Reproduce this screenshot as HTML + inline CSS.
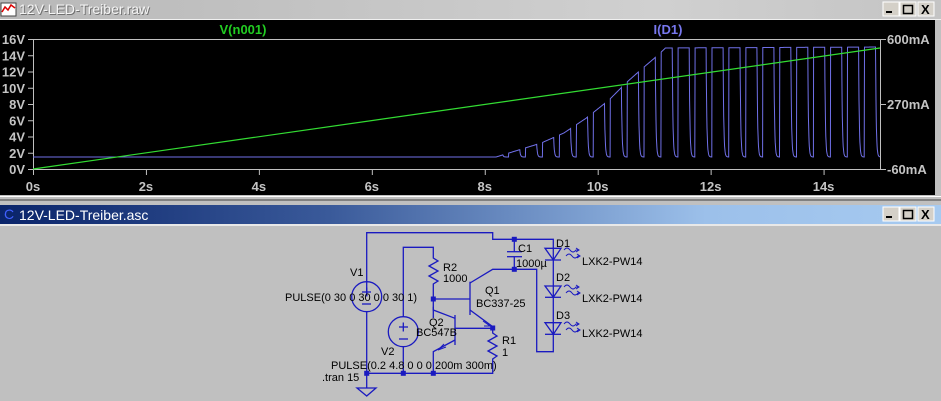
<!DOCTYPE html>
<html><head><meta charset="utf-8"><style>
html,body{margin:0;padding:0;background:#c0c0c0;width:941px;height:401px;overflow:hidden}
svg{display:block}
.ax{font-family:"Liberation Sans",sans-serif;font-size:13px;fill:#c4c4c4;font-weight:bold}
.sc{font-family:"Liberation Sans",sans-serif;font-size:11px;fill:#000}
</style></head><body>
<svg id="s" width="941" height="401" viewBox="0 0 941 401" xmlns="http://www.w3.org/2000/svg">
<defs>
<linearGradient id="g1" x1="0" x2="1"><stop offset="0" stop-color="#b8b8b8"/><stop offset="0.7" stop-color="#d0d0d0"/><stop offset="1" stop-color="#c4c4c4"/></linearGradient>
<linearGradient id="g2" x1="0" x2="1"><stop offset="0" stop-color="#0a246a"/><stop offset="0.35" stop-color="#3a5a9a"/><stop offset="0.75" stop-color="#9cc0ea"/><stop offset="1" stop-color="#a6caf0"/></linearGradient>
</defs>
<rect x="0" y="0" width="941" height="401" fill="#c0c0c0"/>
<rect x="0" y="0" width="941" height="19" fill="url(#g1)"/>
<rect x="1" y="3" width="15" height="13" fill="#fff" stroke="#444" stroke-width="1"/>
<polyline points="2,12 5,7 8,10 11,5 15,8" fill="none" stroke="#d00" stroke-width="1.5"/>
<text x="20" y="15" font-family="Liberation Sans,sans-serif" font-size="14" fill="#707070">12V-LED-Treiber.raw</text>
<text x="19" y="14" font-family="Liberation Sans,sans-serif" font-size="14" fill="#f4f4f4">12V-LED-Treiber.raw</text>
<g font-family="Liberation Sans,sans-serif" font-weight="bold" font-size="11">
<rect x="883" y="2" width="16" height="14" fill="#d4d0c8" stroke="#fff"/><rect x="886" y="11" width="6" height="2" fill="#000"/>
<rect x="900" y="2" width="16" height="14" fill="#d4d0c8" stroke="#fff"/><rect x="903.5" y="5.5" width="9" height="8" fill="none" stroke="#000" stroke-width="1.5"/>
<rect x="918" y="2" width="16" height="14" fill="#d4d0c8" stroke="#fff"/><text x="921" y="14" font-size="13">X</text>
</g>
<rect x="0" y="19" width="941" height="1" fill="#f0f0f0"/>
<rect x="0" y="20" width="935" height="175" fill="#000"/>
<rect x="0" y="196" width="941" height="1" fill="#fff"/>
<rect x="0" y="199" width="941" height="2" fill="#808080"/>
<g stroke="#c0c0c0" stroke-width="1" fill="none">
<rect x="33.5" y="39.5" width="847" height="130"/>
</g>
<g id="ticks" stroke="#c0c0c0"></g>
<g id="lbl"></g>
<text x="243" y="34" text-anchor="middle" font-family="Liberation Sans,sans-serif" font-size="13" font-weight="bold" fill="#22cc22">V(n001)</text>
<text x="668" y="34" text-anchor="middle" font-family="Liberation Sans,sans-serif" font-size="13" font-weight="bold" fill="#7777ee">I(D1)</text>
<path id="cur" fill="none" stroke="#7070e8" stroke-width="1"/>
<line x1="33" y1="169" x2="880" y2="48" stroke="#33dd33" stroke-width="1.2"/>
<rect x="0" y="205" width="941" height="19" fill="url(#g2)"/>
<text x="4" y="219" font-family="Liberation Sans,sans-serif" font-size="14" fill="#4060ff">C</text>
<text x="19" y="220" font-family="Liberation Sans,sans-serif" font-size="14" fill="#fff">12V-LED-Treiber.asc</text>
<g font-family="Liberation Sans,sans-serif" font-weight="bold">
<rect x="883" y="207" width="16" height="14" fill="#d4d0c8" stroke="#fff"/><rect x="886" y="216" width="6" height="2" fill="#000"/>
<rect x="900" y="207" width="16" height="14" fill="#d4d0c8" stroke="#fff"/><rect x="903.5" y="210.5" width="9" height="8" fill="none" stroke="#000" stroke-width="1.5"/>
<rect x="918" y="207" width="16" height="14" fill="#d4d0c8" stroke="#fff"/><text x="921" y="219" font-size="13">X</text>
</g>
<rect x="0" y="224" width="941" height="2" fill="#e8e8e8"/>
<g stroke="#1a1ac0" stroke-width="1.3" fill="none">
<polyline points="366.7,296 366.7,232.7 492.7,232.7 492.7,239.3 553.3,239.3 553.3,351.7 536.7,351.7 536.7,269.3 492.7,269.3 470,283"/>
<line x1="514.3" y1="239.3" x2="514.3" y2="251.7"/>
<line x1="507" y1="251.7" x2="522" y2="251.7"/>
<line x1="507" y1="256.7" x2="522" y2="256.7"/>
<line x1="514.3" y1="256.7" x2="514.3" y2="269.3"/>
<circle cx="366.7" cy="296.7" r="15"/>
<line x1="366.7" y1="311.7" x2="366.7" y2="388"/>
<polygon points="357,388 376,388 366.7,396"/>
<polyline points="366.7,373.3 492.7,373.3 492.7,363.3"/>
<polyline points="403.3,316.7 403.3,247.3 433.3,247.3 433.3,255"/>
<circle cx="403.3" cy="331.7" r="15"/>
<line x1="403.3" y1="346.7" x2="403.3" y2="373.3"/>
<polyline points="433.3,255 433.3,258 438,261 429,266 438,271 429,276 438,281 433.3,284 433.3,318"/>
<line x1="433.3" y1="299" x2="470" y2="299"/>
<line x1="470" y1="281.7" x2="470" y2="315"/>
<line x1="470" y1="310" x2="492.7" y2="326.7"/>
<polyline points="433.3,306.7 433.3,310 455,318.3"/>
<line x1="455" y1="315" x2="455" y2="345"/>
<polyline points="455,340 433.3,351.7 433.3,373.3"/>
<line x1="455" y1="328.3" x2="492.7" y2="328.3"/>
<polyline points="492.7,327 492.7,333 497,336 488,341 497,346 488,351 497,356 492.7,359 492.7,364"/>
<line x1="362" y1="292" x2="371" y2="292"/><line x1="366.7" y1="287.5" x2="366.7" y2="296.5"/>
<line x1="362" y1="304" x2="371" y2="304"/>
<line x1="399" y1="327" x2="408" y2="327"/><line x1="403.3" y1="322.5" x2="403.3" y2="331.5"/>
<line x1="399" y1="339" x2="408" y2="339"/>
<polygon points="545,248.3 561,248.3 553.3,260"/><line x1="545" y1="260" x2="561" y2="260"/>
<polygon points="545,286 561,286 553.3,297.3"/><line x1="545" y1="297.3" x2="561" y2="297.3"/>
<polygon points="545,322.7 561,322.7 553.3,334.3"/><line x1="545" y1="334.3" x2="561" y2="334.3"/>
</g>
<g stroke="#1a1ac0" stroke-width="1" fill="none">
<path d="M483,321 L490,326 L484,326" />
<path d="M446,347 L438,350 L444,344" />
<g id="leds"></g>
</g>
<g fill="#1a1ac0">
<rect x="511.8" y="236.8" width="5" height="5"/>
<rect x="511.8" y="266.8" width="5" height="5"/>
<rect x="430.8" y="296.5" width="5" height="5"/>
<rect x="490.2" y="325.5" width="5" height="5"/>
<rect x="364.2" y="370.8" width="5" height="5"/>
<rect x="400.8" y="370.8" width="5" height="5"/>
<rect x="430.8" y="370.8" width="5" height="5"/>
</g>
<g class="sc">
<text x="556" y="247">D1</text><text x="582" y="265">LXK2-PW14</text>
<text x="556" y="281">D2</text><text x="582" y="302">LXK2-PW14</text>
<text x="556" y="319">D3</text><text x="582" y="337">LXK2-PW14</text>
<text x="518" y="252">C1</text><text x="516" y="267">1000µ</text>
<text x="443" y="271">R2</text><text x="443" y="282">1000</text>
<text x="485" y="294">Q1</text><text x="476" y="307">BC337-25</text>
<text x="429" y="326">Q2</text><text x="416" y="336">BC547B</text>
<text x="502" y="344">R1</text><text x="502" y="356">1</text>
<text x="350" y="276">V1</text><text x="285" y="301">PULSE(0 30 0 30 0 0 30 1)</text>
<text x="381" y="355">V2</text><text x="331" y="369">PULSE(0.2 4.8 0 0 0 200m 300m)</text>
<text x="322" y="381">.tran 15</text>
</g>
</svg>
<script>
var NS="http://www.w3.org/2000/svg";
function el(p,t,a,txt){var e=document.createElementNS(NS,t);for(var k in a)e.setAttribute(k,a[k]);if(txt)e.textContent=txt;document.getElementById(p).appendChild(e);}
for(var i=0;i<=8;i++){var y=169-i*16.25;el("ticks","line",{x1:28,y1:y+.5,x2:33,y2:y+.5});el("lbl","text",{x:25,y:y+5,"text-anchor":"end","class":"ax"},(i*2)+"V");}
for(var i=0;i<=7;i++){var x=33+i*2*56.47;el("ticks","line",{x1:x+.5,y1:169,x2:x+.5,y2:175});el("lbl","text",{x:x,y:191,"text-anchor":"middle","class":"ax"},(i*2)+"s");}
[[39,"600mA"],[104,"270mA"],[169,"-60mA"]].forEach(function(a){el("ticks","line",{x1:880,y1:a[0]+.5,x2:886,y2:a[0]+.5});el("lbl","text",{x:887,y:a[0]+5,"class":"ax"},a[1]);});
var P=[[0,157],[8.2,157],[8.6,150],[9.0,143],[9.4,133],[9.8,118],[10.2,100],[10.5,83],[10.8,68],[11.05,56],[11.2,48],[15,47]];
function env(t){for(var i=1;i<P.length;i++){if(t<=P[i][0]){var a=P[i-1],b=P[i];return a[1]+(b[1]-a[1])*(t-a[0])/(b[0]-a[0]);}}return 47;}
var d="";for(var t=0;t<=15.0001;t+=0.004){var e=env(t);var p=((t-11.32)%0.3+0.3)%0.3;var f=p<0.1?Math.exp(-p/0.012):1;if(p<0.1&&p>0.095)f=0;var y=157-(157-e)*f;var x=33+t*56.47;d+=(d?"L":"M")+x.toFixed(1)+","+y.toFixed(1);}
document.getElementById("cur").setAttribute("d",d);
[254,291,328].forEach(function(y){el("leds","path",{d:"M564,"+(y-4)+" q3,-4 6,0 t6,0 l3,0 m-3,-2 l3,2 l-3,2"});el("leds","path",{d:"M566,"+(y+2)+" q3,-4 6,0 t6,0 l2,0 m-3,-2 l3,2 l-3,2"});});
</script>
</body></html>
